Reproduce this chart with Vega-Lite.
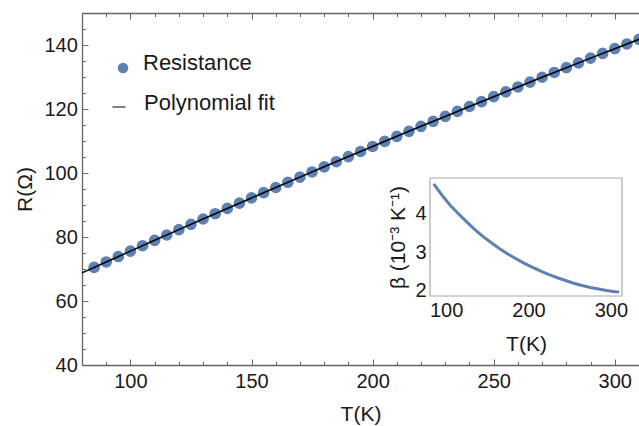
{
  "$schema": "https://vega.github.io/schema/vega-lite/v6.json",
  "width": 557,
  "height": 352,
  "autosize": {"type": "none"},
  "padding": {"left": 82, "top": 13, "right": 0, "bottom": 61},
  "config": {
    "view": {"stroke": null},
    "font": "Liberation Sans",
    "axis": {
      "grid": false,
      "labelFont": "Liberation Sans",
      "titleFont": "Liberation Sans",
      "labelColor": "#1a1a1a",
      "titleColor": "#1a1a1a",
      "titleFontWeight": "normal",
      "labelFontSize": 20,
      "titleFontSize": 21
    },
    "legend": {
      "labelFont": "Liberation Sans",
      "labelFontSize": 22,
      "labelColor": "#1a1a1a",
      "padding": 0
    }
  },
  "datasets": {
    "resistance": [
      {"T": 85, "R": 70.50}, {"T": 90, "R": 72.20}, {"T": 95, "R": 73.90}, {"T": 100, "R": 75.59},
      {"T": 105, "R": 77.28}, {"T": 110, "R": 78.96}, {"T": 115, "R": 80.63}, {"T": 120, "R": 82.31},
      {"T": 125, "R": 83.97}, {"T": 130, "R": 85.63}, {"T": 135, "R": 87.28}, {"T": 140, "R": 88.93},
      {"T": 145, "R": 90.58}, {"T": 150, "R": 92.21}, {"T": 155, "R": 93.85}, {"T": 160, "R": 95.47},
      {"T": 165, "R": 97.10}, {"T": 170, "R": 98.71}, {"T": 175, "R": 100.32}, {"T": 180, "R": 101.93},
      {"T": 185, "R": 103.53}, {"T": 190, "R": 105.13}, {"T": 195, "R": 106.72}, {"T": 200, "R": 108.30},
      {"T": 205, "R": 109.88}, {"T": 210, "R": 111.45}, {"T": 215, "R": 113.02}, {"T": 220, "R": 114.58},
      {"T": 225, "R": 116.14}, {"T": 230, "R": 117.69}, {"T": 235, "R": 119.24}, {"T": 240, "R": 120.78},
      {"T": 245, "R": 122.32}, {"T": 250, "R": 123.85}, {"T": 255, "R": 125.37}, {"T": 260, "R": 126.89},
      {"T": 265, "R": 128.41}, {"T": 270, "R": 129.92}, {"T": 275, "R": 131.42}, {"T": 280, "R": 132.92},
      {"T": 285, "R": 134.41}, {"T": 290, "R": 135.90}, {"T": 295, "R": 137.38}, {"T": 300, "R": 138.86},
      {"T": 305, "R": 140.33}, {"T": 310, "R": 141.79}
    ],
    "fit": [
      {"T": 80, "R": 68.79}, {"T": 90, "R": 72.20}, {"T": 100, "R": 75.59}, {"T": 110, "R": 78.96},
      {"T": 120, "R": 82.31}, {"T": 130, "R": 85.63}, {"T": 140, "R": 88.93}, {"T": 150, "R": 92.21},
      {"T": 160, "R": 95.47}, {"T": 170, "R": 98.71}, {"T": 180, "R": 101.93}, {"T": 190, "R": 105.13},
      {"T": 200, "R": 108.30}, {"T": 210, "R": 111.45}, {"T": 220, "R": 114.58}, {"T": 230, "R": 117.69},
      {"T": 240, "R": 120.78}, {"T": 250, "R": 123.85}, {"T": 260, "R": 126.89}, {"T": 270, "R": 129.92},
      {"T": 280, "R": 132.92}, {"T": 290, "R": 135.90}, {"T": 300, "R": 138.86}, {"T": 310, "R": 141.79}
    ],
    "beta": [
      {"T": 85, "beta": 4.76}, {"T": 95, "beta": 4.47}, {"T": 105, "beta": 4.21}, {"T": 115, "beta": 3.99},
      {"T": 125, "beta": 3.78}, {"T": 135, "beta": 3.58}, {"T": 145, "beta": 3.40}, {"T": 155, "beta": 3.24},
      {"T": 165, "beta": 3.09}, {"T": 175, "beta": 2.95}, {"T": 185, "beta": 2.83}, {"T": 195, "beta": 2.71},
      {"T": 205, "beta": 2.61}, {"T": 215, "beta": 2.51}, {"T": 225, "beta": 2.42}, {"T": 235, "beta": 2.34},
      {"T": 245, "beta": 2.27}, {"T": 255, "beta": 2.20}, {"T": 265, "beta": 2.14}, {"T": 275, "beta": 2.09},
      {"T": 285, "beta": 2.05}, {"T": 295, "beta": 2.01}, {"T": 305, "beta": 1.98}, {"T": 310, "beta": 1.97}
    ]
  },
  "resolve": {"scale": {"x": "independent", "y": "independent"}},
  "layer": [
    {
      "resolve": {"axis": {"x": "independent", "y": "independent"}},
      "layer": [
        {
          "data": {"name": "resistance"},
          "mark": {"type": "point", "filled": true, "size": 135, "opacity": 1},
          "encoding": {
            "x": {
              "field": "T", "type": "quantitative",
              "scale": {"domain": [80, 310], "nice": false, "zero": false},
              "axis": {
                "orient": "bottom", "title": "T(K)",
                "values": [80, 90, 100, 110, 120, 130, 140, 150, 160, 170, 180, 190, 200, 210, 220, 230, 240, 250, 260, 270, 280, 290, 300, 310],
                "labelExpr": "datum.value % 50 === 0 ? datum.label : ''",
                "tickSize": {"condition": {"test": "datum.value % 50 === 0", "value": -6}, "value": -3.5},
                "labelPadding": 12.5, "titlePadding": 9,
                "domainColor": "#666", "tickColor": "#666", "domainWidth": 1.3, "tickWidth": 1,
                "labelFlush": false, "labelOverlap": false
              }
            },
            "y": {
              "field": "R", "type": "quantitative",
              "scale": {"domain": [40, 150], "nice": false, "zero": false},
              "axis": {
                "orient": "left", "title": "R(Ω)",
                "values": [40, 45, 50, 55, 60, 65, 70, 75, 80, 85, 90, 95, 100, 105, 110, 115, 120, 125, 130, 135, 140, 145, 150],
                "labelExpr": "datum.value % 20 === 0 ? datum.label : ''",
                "tickSize": {"condition": {"test": "datum.value % 20 === 0", "value": -6}, "value": -3.5},
                "labelPadding": 10.7, "titlePadding": 8,
                "domainColor": "#666", "tickColor": "#666", "domainWidth": 1.3, "tickWidth": 1,
                "labelFlush": false, "labelOverlap": false
              }
            },
            "color": {
              "datum": "Resistance",
              "scale": {"range": ["#5e81b5"]},
              "legend": {
                "title": null, "orient": "none", "legendX": 30, "legendY": 44,
                "symbolType": "circle", "symbolSize": 113, "symbolOpacity": 1,
                "labelOffset": 9, "labelBaseline": "alphabetic",
                "encode": {"labels": {"update": {"dy": {"value": 2}}}}
              }
            }
          }
        },
        {
          "data": {"name": "fit"},
          "mark": {"type": "line", "strokeWidth": 1.6},
          "encoding": {
            "x": {
              "field": "T", "type": "quantitative",
              "scale": {"domain": [80, 310], "nice": false, "zero": false},
              "axis": {
                "orient": "top", "title": null, "labels": false,
                "values": [80, 90, 100, 110, 120, 130, 140, 150, 160, 170, 180, 190, 200, 210, 220, 230, 240, 250, 260, 270, 280, 290, 300, 310],
                "tickSize": {"condition": {"test": "datum.value % 50 === 0", "value": -6}, "value": -3.5},
                "domainColor": "#666", "tickColor": "#666", "domainWidth": 1.3, "tickWidth": 1
              }
            },
            "y": {
              "field": "R", "type": "quantitative",
              "axis": {"orient": "right", "title": null, "labels": false, "ticks": false, "domain": false}
            },
            "stroke": {
              "datum": "Polynomial fit",
              "scale": {"range": ["black"]},
              "legend": {
                "title": null, "orient": "none", "legendX": 26, "legendY": 83,
                "symbolType": "stroke", "symbolSize": 169, "symbolStrokeWidth": 1,
                "labelOffset": 14, "labelBaseline": "alphabetic",
                "encode": {"labels": {"update": {"dy": {"value": 3}}}}
              }
            }
          }
        }
      ]
    },
    {
      "resolve": {"axis": {"x": "independent", "y": "independent"}},
      "layer": [
        {
          "data": {"values": [{}]},
          "mark": {"type": "rect", "fill": "white", "stroke": "#aaaaaa", "strokeWidth": 1.2},
          "encoding": {
            "x": {
              "datum": 80.5, "type": "quantitative",
              "scale": {"domain": [80.5, 313.5], "range": [348, 540], "nice": false, "zero": false},
              "axis": {"orient": "top", "title": null, "labels": false, "ticks": false, "domain": false}
            },
            "x2": {"datum": 313.5},
            "y": {
              "datum": 1.87, "type": "quantitative",
              "scale": {"domain": [1.87, 4.91], "range": [283, 165], "nice": false, "zero": false},
              "axis": {"orient": "right", "title": null, "labels": false, "ticks": false, "domain": false}
            },
            "y2": {"datum": 4.91}
          }
        },
        {
          "data": {"name": "beta"},
          "mark": {"type": "line", "color": "#5e81b5", "strokeWidth": 3},
          "encoding": {
            "x": {
              "field": "T", "type": "quantitative",
              "axis": {
                "orient": "bottom", "offset": -69, "title": "T(K)",
                "values": [100, 200, 300], "domain": false,
                "tickSize": -3, "tickColor": "#999", "labelPadding": 7, "titlePadding": 13,
                "labelFlush": false, "labelOverlap": false
              }
            },
            "y": {
              "field": "beta", "type": "quantitative",
              "axis": {
                "orient": "left", "offset": -348, "title": "β (10⁻³ K⁻¹)",
                "values": [2, 3, 4], "domain": false,
                "tickSize": -3, "tickColor": "#999", "labelPadding": 7, "titlePadding": 6,
                "labelFlush": false, "labelOverlap": false
              }
            }
          }
        }
      ]
    }
  ]
}
